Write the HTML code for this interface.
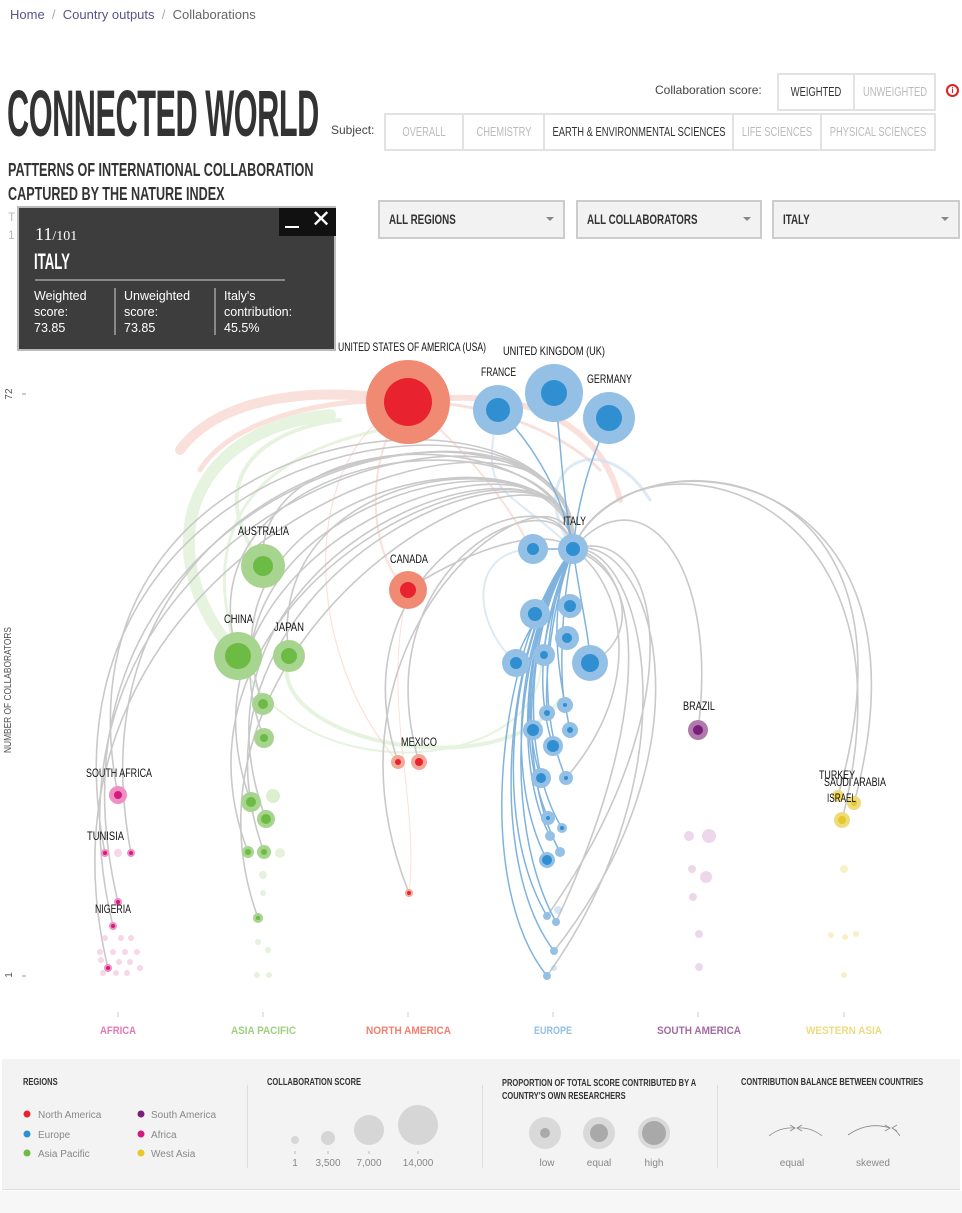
<!DOCTYPE html>
<html><head><meta charset="utf-8"><style>
*{margin:0;padding:0;box-sizing:border-box}
body{width:962px;height:1213px;background:#fff;font-family:"Liberation Sans",sans-serif;position:relative;overflow:hidden;color:#333}
.abs{position:absolute}
.cond{font-family:"Liberation Sans",sans-serif;font-weight:bold;transform-origin:0 0}
.btn{position:absolute;border:2px solid #e2e2e2;font-size:13px;color:#bbb;height:38px;background:#fff;white-space:nowrap;overflow:hidden}
.btn span{position:absolute;left:50%;top:0;line-height:34px;transform:translateX(-50%) scaleX(0.72);transform-origin:50% 50%}
.sel{position:absolute;top:200px;height:39px;background:#f2f2f2;border:2px solid #ccc;font-weight:bold;font-size:14px;color:#333;line-height:34px;padding-left:9px;white-space:nowrap}
.sel span{display:inline-block;transform:scaleX(0.7);transform-origin:0 50%}
.sel:after{content:"";position:absolute;right:9px;top:15px;border-left:4px solid transparent;border-right:4px solid transparent;border-top:4px solid #888}
</style></head><body>
<div class="abs" style="left:10px;top:7px;font-size:13px;color:#56548a">Home <span style="color:#aaa">&nbsp;/&nbsp;</span> Country outputs <span style="color:#aaa">&nbsp;/&nbsp;</span> <span style="color:#666">Collaborations</span></div>

<div class="abs cond" style="left:7px;top:78px;font-size:66px;letter-spacing:-1px;color:#333;transform:scaleX(0.465);white-space:nowrap;line-height:70px">CONNECTED WORLD</div>
<div class="abs cond" style="left:8px;top:158px;font-size:18px;line-height:24px;color:#333;transform:scaleX(0.70);white-space:nowrap">PATTERNS OF INTERNATIONAL COLLABORATION<br>CAPTURED BY THE NATURE INDEX</div>
<div class="abs" style="left:8px;top:208px;font-size:12px;color:#bbb;line-height:18px">T<br>1</div>

<div class="abs" style="left:655px;top:83px;font-size:12px;color:#444">Collaboration score:</div>
<div class="btn" style="left:777px;top:73px;width:78px;color:#333"><span>WEIGHTED</span></div>
<div class="btn" style="left:853px;top:73px;width:83px"><span>UNWEIGHTED</span></div>
<div class="abs" style="left:946px;top:84px;width:13px;height:13px;border:2px solid #d22;border-radius:50%;font-size:8px;color:#d22;text-align:center;line-height:9px;font-weight:bold">i</div>

<div class="abs" style="left:331px;top:123px;font-size:12px;color:#444">Subject:</div>
<div class="btn" style="left:384px;top:113px;width:80px"><span>OVERALL</span></div>
<div class="btn" style="left:462px;top:113px;width:83px"><span>CHEMISTRY</span></div>
<div class="btn" style="left:543px;top:113px;width:191px;color:#333"><span>EARTH &amp; ENVIRONMENTAL SCIENCES</span></div>
<div class="btn" style="left:732px;top:113px;width:90px"><span>LIFE SCIENCES</span></div>
<div class="btn" style="left:820px;top:113px;width:116px"><span>PHYSICAL SCIENCES</span></div>

<div class="sel" style="left:378px;width:187px"><span>ALL REGIONS</span></div>
<div class="sel" style="left:576px;width:186px"><span>ALL COLLABORATORS</span></div>
<div class="sel" style="left:772px;width:188px"><span>ITALY</span></div>

<svg class="abs" style="left:0;top:0" width="962" height="1060" viewBox="0 0 962 1060">
<g fill="none" stroke-linecap="round">
<g stroke="#f4b4a8" opacity="0.4">
<path d="M408,402 C320,385 220,395 180,450" stroke-width="10"/>
<path d="M408,402 C330,395 230,420 200,470" stroke-width="5"/>
<path d="M408,402 C520,385 600,420 620,500" stroke-width="6"/>
<path d="M408,402 C480,400 560,430 600,470" stroke-width="3"/>
<path d="M408,402 C360,460 370,560 408,590" stroke-width="2"/>
<path d="M408,402 C300,450 300,650 398,762" stroke-width="1.2"/>
<path d="M408,402 C470,450 520,520 530,550" stroke-width="2"/>
<path d="M408,590 C380,700 420,800 409,893" stroke-width="1"/>
</g>
<g stroke="#cfe8c0" opacity="0.5">
<path d="M238,656 C150,560 180,430 330,415" stroke-width="12"/>
<path d="M263,566 C200,480 260,430 340,420" stroke-width="4"/>
<path d="M238,656 C200,540 240,460 380,430" stroke-width="3"/>
<path d="M289,656 C260,740 500,790 560,700" stroke-width="4"/>
<path d="M238,656 C300,800 560,770 540,650" stroke-width="2"/>
</g>
<g stroke="#cfe0f2" opacity="0.7">
<path d="M573,549 C520,470 600,420 650,500" stroke-width="3"/>
<path d="M573,549 C500,480 480,500 498,410" stroke-width="2"/>
<path d="M516,663 C470,620 470,550 533,549" stroke-width="2"/>
</g>
<g stroke="#c9c9c9" stroke-width="1.6">
<path d="M573,549 C585,360 40,400 118,795"/>
<path d="M573,549 C585,355 20,420 105,853"/>
<path d="M573,549 C585,365 50,430 131,853"/>
<path d="M573,549 C590,350 10,450 118,902"/>
<path d="M573,549 C590,345 5,480 113,926"/>
<path d="M573,549 C595,340 0,520 108,968"/>
<path d="M573,549 C570,420 250,420 263,566"/>
<path d="M573,549 C575,400 170,440 238,656"/>
<path d="M573,549 C570,430 260,460 289,656"/>
<path d="M573,549 C575,410 180,480 263,704"/>
<path d="M573,549 C578,405 170,500 264,738"/>
<path d="M573,549 C580,395 150,530 251,802"/>
<path d="M573,549 C580,400 160,540 266,819"/>
<path d="M573,549 C582,390 140,570 248,852"/>
<path d="M573,549 C582,395 160,570 264,852"/>
<path d="M573,549 C585,385 150,620 258,918"/>
<path d="M573,549 C540,520 450,560 408,590"/>
<path d="M573,549 C560,460 330,560 398,762"/>
<path d="M573,549 C560,470 360,560 419,762"/>
<path d="M573,549 C570,440 300,620 409,893"/>
<path d="M573,549 C640,470 720,560 698,730"/>
<path d="M573,549 C620,430 940,440 838,796"/>
<path d="M573,549 C620,425 950,450 854,803"/>
<path d="M573,549 C625,420 930,470 842,820"/>
<path d="M573,549 C640,540 700,760 547,976"/>
<path d="M573,549 C650,530 720,740 554,951"/>
<path d="M573,549 C660,520 700,700 547,916"/>
<path d="M573,549 C640,560 660,700 556,922"/>
<path d="M573,549 C620,580 650,680 566,778"/>
<path d="M573,549 C630,570 640,640 590,663"/>
</g>
<g stroke="#7fb3de" stroke-width="1.5">
<path d="M573,549 C560,480 560,420 554,393"/>
<path d="M573,549 C580,480 600,440 609,418"/>
<path d="M573,549 C560,480 520,430 498,410"/>
<path d="M573,549 C500,640 470,880 547,976"/>
<path d="M573,549 C505,640 485,860 554,951"/>
<path d="M573,549 C510,640 490,820 547,916"/>
<path d="M573,549 C515,640 500,820 556,922"/>
<path d="M573,549 C515,640 505,780 547,860"/>
<path d="M573,549 C520,640 520,780 560,852"/>
<path d="M573,549 C520,630 515,770 550,836"/>
<path d="M573,549 C525,630 520,760 562,828"/>
<path d="M573,549 C525,630 515,740 548,818"/>
<path d="M573,549 C530,620 520,720 541,778"/>
<path d="M573,549 C540,620 540,720 566,778"/>
<path d="M573,549 C540,620 535,690 553,746"/>
<path d="M573,549 C545,610 560,680 570,730"/>
<path d="M573,549 C540,610 520,690 533,730"/>
<path d="M573,549 C550,610 545,680 547,713"/>
<path d="M573,549 C560,610 560,680 565,705"/>
<path d="M573,549 C550,600 520,640 516,663"/>
<path d="M573,549 C555,600 545,630 544,655"/>
<path d="M573,549 C580,600 590,640 590,663"/>
<path d="M573,549 C560,580 540,600 535,614"/>
<path d="M573,549 L533,549"/>
</g>
</g>
<g>
<circle cx="408" cy="402" r="42" fill="#f08a72"/><circle cx="408" cy="402" r="24" fill="#e8232f"/>
<circle cx="408" cy="590" r="19" fill="#f08a72"/><circle cx="408" cy="590" r="8" fill="#e8232f"/>
<circle cx="398" cy="762" r="7" fill="#f4a898"/><circle cx="398" cy="762" r="3" fill="#e8232f"/>
<circle cx="419" cy="762" r="8" fill="#f4a898"/><circle cx="419" cy="762" r="4" fill="#e8232f"/>
<circle cx="409" cy="893" r="4" fill="#f4a898"/><circle cx="409" cy="893" r="2" fill="#e8232f"/>
</g>
<g fill="#94c0e6">
<circle cx="498" cy="410" r="25"/><circle cx="554" cy="393" r="29"/><circle cx="609" cy="418" r="26"/>
<circle cx="573" cy="549" r="15"/><circle cx="533" cy="549" r="15"/><circle cx="535" cy="614" r="15"/>
<circle cx="570" cy="606" r="12"/><circle cx="567" cy="638" r="12"/><circle cx="516" cy="663" r="14"/>
<circle cx="544" cy="655" r="11"/><circle cx="590" cy="663" r="18"/><circle cx="565" cy="705" r="8"/>
<circle cx="547" cy="713" r="8"/><circle cx="533" cy="730" r="10"/><circle cx="570" cy="730" r="8"/>
<circle cx="553" cy="746" r="10"/><circle cx="541" cy="778" r="10"/><circle cx="566" cy="778" r="7"/>
<circle cx="548" cy="818" r="7"/><circle cx="562" cy="828" r="5"/><circle cx="550" cy="836" r="5"/>
<circle cx="547" cy="860" r="8"/><circle cx="560" cy="852" r="5"/><circle cx="547" cy="916" r="4"/>
<circle cx="556" cy="922" r="4"/><circle cx="554" cy="951" r="4"/><circle cx="547" cy="976" r="4"/>
<circle cx="558" cy="910" r="4" opacity="0.4"/><circle cx="554" cy="968" r="3" opacity="0.4"/>
</g>
<g fill="#2f8fd1">
<circle cx="498" cy="410" r="12"/><circle cx="554" cy="393" r="13"/><circle cx="609" cy="418" r="13"/>
<circle cx="573" cy="549" r="7"/><circle cx="533" cy="549" r="6"/><circle cx="535" cy="614" r="7"/>
<circle cx="570" cy="606" r="6"/><circle cx="567" cy="638" r="5"/><circle cx="516" cy="663" r="6"/>
<circle cx="544" cy="655" r="4"/><circle cx="590" cy="663" r="9"/><circle cx="565" cy="705" r="2"/>
<circle cx="547" cy="713" r="3"/><circle cx="533" cy="730" r="6"/><circle cx="570" cy="730" r="3"/>
<circle cx="553" cy="746" r="6"/><circle cx="541" cy="778" r="5"/><circle cx="566" cy="778" r="2"/>
<circle cx="548" cy="818" r="2"/><circle cx="547" cy="860" r="5"/><circle cx="562" cy="828" r="2"/>
</g>
<g>
<circle cx="263" cy="566" r="22" fill="#a7d48f"/><circle cx="263" cy="566" r="10" fill="#6cbb45"/>
<circle cx="238" cy="656" r="24" fill="#a7d48f"/><circle cx="238" cy="656" r="13" fill="#6cbb45"/>
<circle cx="289" cy="656" r="16" fill="#a7d48f"/><circle cx="289" cy="656" r="8" fill="#6cbb45"/>
<circle cx="263" cy="704" r="11" fill="#a7d48f"/><circle cx="263" cy="704" r="5" fill="#6cbb45"/>
<circle cx="264" cy="738" r="10" fill="#a7d48f"/><circle cx="264" cy="738" r="4" fill="#6cbb45"/>
<circle cx="251" cy="802" r="10" fill="#a7d48f"/><circle cx="251" cy="802" r="5" fill="#6cbb45"/>
<circle cx="273" cy="796" r="7" fill="#dcefd0"/>
<circle cx="266" cy="819" r="9" fill="#a7d48f"/><circle cx="266" cy="819" r="5" fill="#6cbb45"/>
<circle cx="248" cy="852" r="6" fill="#a7d48f"/><circle cx="248" cy="852" r="3" fill="#6cbb45"/>
<circle cx="264" cy="852" r="7" fill="#a7d48f"/><circle cx="264" cy="852" r="3" fill="#6cbb45"/>
<circle cx="280" cy="853" r="5" fill="#e5f2dc"/>
<circle cx="258" cy="918" r="5" fill="#a7d48f"/><circle cx="258" cy="918" r="2" fill="#6cbb45"/>
<g fill="#e5f2dc"><circle cx="263" cy="875" r="4"/><circle cx="263" cy="893" r="3"/><circle cx="258" cy="942" r="3"/><circle cx="268" cy="950" r="3"/><circle cx="257" cy="975" r="3"/><circle cx="269" cy="975" r="3"/></g>
</g>
<g>
<circle cx="698" cy="730" r="10" fill="#b07aaa"/><circle cx="698" cy="730" r="5" fill="#7b1f7a"/>
<g fill="#ecd8ea"><circle cx="689" cy="836" r="5"/><circle cx="709" cy="836" r="7"/><circle cx="692" cy="869" r="4"/><circle cx="706" cy="877" r="6"/><circle cx="693" cy="897" r="4"/><circle cx="699" cy="934" r="4"/><circle cx="699" cy="967" r="4"/></g>
</g>
<g>
<circle cx="118" cy="795" r="9" fill="#ee90c4"/><circle cx="118" cy="795" r="4" fill="#d6197f"/>
<circle cx="105" cy="853" r="4" fill="#ee90c4"/><circle cx="105" cy="853" r="2" fill="#d6197f"/>
<circle cx="131" cy="853" r="4" fill="#ee90c4"/><circle cx="131" cy="853" r="2" fill="#d6197f"/>
<circle cx="118" cy="853" r="4" fill="#f8d6e8"/>
<circle cx="118" cy="902" r="4" fill="#ee90c4"/><circle cx="118" cy="902" r="2" fill="#d6197f"/>
<circle cx="113" cy="926" r="4" fill="#ee90c4"/><circle cx="113" cy="926" r="2" fill="#d6197f"/>
<circle cx="108" cy="968" r="4" fill="#ee90c4"/><circle cx="108" cy="968" r="2" fill="#d6197f"/>
<g fill="#f8d6e8"><circle cx="105" cy="938" r="3"/><circle cx="121" cy="938" r="3"/><circle cx="131" cy="938" r="3"/><circle cx="100" cy="952" r="3"/><circle cx="113" cy="952" r="3"/><circle cx="125" cy="952" r="3"/><circle cx="137" cy="952" r="3"/><circle cx="101" cy="960" r="3"/><circle cx="119" cy="962" r="3"/><circle cx="130" cy="962" r="3"/><circle cx="103" cy="973" r="3"/><circle cx="116" cy="973" r="3"/><circle cx="127" cy="973" r="3"/><circle cx="140" cy="968" r="3"/></g>
</g>
<g>
<circle cx="838" cy="796" r="6" fill="#eedb7a"/><circle cx="838" cy="796" r="3" fill="#e6c829"/>
<circle cx="854" cy="803" r="7" fill="#eedb7a"/><circle cx="854" cy="803" r="3" fill="#e6c829"/>
<circle cx="842" cy="820" r="8" fill="#eedb7a"/><circle cx="842" cy="820" r="4" fill="#e6c829"/>
<g fill="#f8f0c8"><circle cx="844" cy="869" r="4"/><circle cx="831" cy="935" r="3"/><circle cx="845" cy="937" r="3"/><circle cx="856" cy="934" r="3"/><circle cx="844" cy="975" r="3"/></g>
</g>
<g font-family="Liberation Sans, sans-serif" font-size="12" fill="#111">
<text x="338" y="351" textLength="148" lengthAdjust="spacingAndGlyphs">UNITED STATES OF AMERICA (USA)</text>
<text x="503" y="355" textLength="102" lengthAdjust="spacingAndGlyphs">UNITED KINGDOM (UK)</text>
<text x="481" y="376" textLength="35" lengthAdjust="spacingAndGlyphs">FRANCE</text>
<text x="587" y="383" textLength="45" lengthAdjust="spacingAndGlyphs">GERMANY</text>
<text x="563" y="525" textLength="23" lengthAdjust="spacingAndGlyphs">ITALY</text>
<text x="238" y="535" textLength="51" lengthAdjust="spacingAndGlyphs">AUSTRALIA</text>
<text x="390" y="563" textLength="38" lengthAdjust="spacingAndGlyphs">CANADA</text>
<text x="224" y="623" textLength="29" lengthAdjust="spacingAndGlyphs">CHINA</text>
<text x="274" y="631" textLength="30" lengthAdjust="spacingAndGlyphs">JAPAN</text>
<text x="401" y="746" textLength="36" lengthAdjust="spacingAndGlyphs">MEXICO</text>
<text x="683" y="710" textLength="32" lengthAdjust="spacingAndGlyphs">BRAZIL</text>
<text x="86" y="777" textLength="66" lengthAdjust="spacingAndGlyphs">SOUTH AFRICA</text>
<text x="87" y="840" textLength="37" lengthAdjust="spacingAndGlyphs">TUNISIA</text>
<text x="95" y="913" textLength="36" lengthAdjust="spacingAndGlyphs">NIGERIA</text>
<text x="819" y="779" textLength="36" lengthAdjust="spacingAndGlyphs">TURKEY</text>
<text x="824" y="786" textLength="62" lengthAdjust="spacingAndGlyphs">SAUDI ARABIA</text>
<text x="827" y="802" textLength="29" lengthAdjust="spacingAndGlyphs">ISRAEL</text>
</g>
<g font-family="Liberation Sans, sans-serif" font-size="10" fill="#555">
<text x="12" y="394" transform="rotate(-90 12 394)" text-anchor="middle">72</text>
<text x="12" y="975" transform="rotate(-90 12 975)" text-anchor="middle">1</text>
<text x="11" y="690" transform="rotate(-90 11 690)" text-anchor="middle" textLength="126" lengthAdjust="spacingAndGlyphs">NUMBER OF COLLABORATORS</text>
<line x1="22" y1="394" x2="26" y2="394" stroke="#999"/><line x1="22" y1="976" x2="26" y2="976" stroke="#999"/>
</g>
<g font-family="Liberation Sans, sans-serif" font-size="11" font-weight="bold">
<text x="100" y="1034" fill="#e27ab5" textLength="36" lengthAdjust="spacingAndGlyphs">AFRICA</text>
<text x="231" y="1034" fill="#9fd080" textLength="65" lengthAdjust="spacingAndGlyphs">ASIA PACIFIC</text>
<text x="366" y="1034" fill="#f08070" textLength="85" lengthAdjust="spacingAndGlyphs">NORTH AMERICA</text>
<text x="534" y="1034" fill="#93c0e6" textLength="38" lengthAdjust="spacingAndGlyphs">EUROPE</text>
<text x="657" y="1034" fill="#a56ba3" textLength="84" lengthAdjust="spacingAndGlyphs">SOUTH AMERICA</text>
<text x="806" y="1034" fill="#eddb80" textLength="76" lengthAdjust="spacingAndGlyphs">WESTERN ASIA</text>
</g>
<g stroke="#ccc"><line x1="118" y1="1012" x2="118" y2="1017"/><line x1="263" y1="1012" x2="263" y2="1017"/><line x1="408" y1="1012" x2="408" y2="1017"/><line x1="553" y1="1012" x2="553" y2="1017"/><line x1="698" y1="1012" x2="698" y2="1017"/><line x1="844" y1="1012" x2="844" y2="1017"/></g>
</svg>

<div class="abs" style="left:17px;top:206px;width:319px;height:145px;background:#3d3d3d;border:2px solid #bbb;color:#fff">
 <div class="abs" style="left:260px;top:0;width:57px;height:28px;background:#111"></div>
 <div class="abs" style="left:266px;top:18px;width:14px;height:2px;background:#fff"></div>
 <div class="abs" style="left:292px;top:-1px;font-size:24px;line-height:26px">✕</div>
 <div class="abs" style="left:16px;top:16px;font-size:18px;font-family:'Liberation Serif',serif">11<span style="font-size:14px">/101</span></div>
 <div class="abs cond" style="left:15px;top:41px;font-size:22px;transform:scaleX(0.6)">ITALY</div>
 <div class="abs" style="left:16px;top:71px;width:250px;height:2px;background:#888"></div>
 <div class="abs" style="left:15px;top:80px;font-size:12.5px;line-height:16px">Weighted<br>score:<br>73.85</div>
 <div class="abs" style="left:95px;top:80px;width:2px;height:47px;background:#888"></div>
 <div class="abs" style="left:105px;top:80px;font-size:12.5px;line-height:16px">Unweighted<br>score:<br>73.85</div>
 <div class="abs" style="left:195px;top:80px;width:2px;height:47px;background:#888"></div>
 <div class="abs" style="left:205px;top:80px;font-size:12.5px;line-height:16px">Italy's<br>contribution:<br>45.5%</div>
</div>

<div class="abs" style="left:2px;top:1059px;width:958px;height:131px;background:#f3f3f3;border-bottom:1px solid #ddd"></div>
<div class="abs" style="left:0;top:1191px;width:962px;height:22px;background:#f7f7f7"></div>
<div class="abs" style="left:247px;top:1085px;width:1px;height:83px;background:#ddd"></div>
<div class="abs" style="left:482px;top:1085px;width:1px;height:83px;background:#ddd"></div>
<div class="abs" style="left:717px;top:1085px;width:1px;height:83px;background:#ddd"></div>
<div class="abs cond" style="left:23px;top:1077px;font-size:10px;transform:scaleX(0.75);white-space:nowrap">REGIONS</div>
<div class="abs cond" style="left:267px;top:1077px;font-size:10px;transform:scaleX(0.75);white-space:nowrap">COLLABORATION SCORE</div>
<div class="abs cond" style="left:502px;top:1077px;font-size:10px;line-height:13px;transform:scaleX(0.75);white-space:nowrap">PROPORTION OF TOTAL SCORE CONTRIBUTED BY A<br>COUNTRY'S OWN RESEARCHERS</div>
<div class="abs cond" style="left:741px;top:1077px;font-size:10px;transform:scaleX(0.75);white-space:nowrap">CONTRIBUTION BALANCE BETWEEN COUNTRIES</div>
<svg class="abs" style="left:0;top:1059px" width="962" height="131">
<g font-family="Liberation Sans, sans-serif" font-size="10" fill="#888">
<circle cx="27" cy="55" r="3.5" fill="#e8232f"/><text x="38" y="59">North America</text>
<circle cx="27" cy="75" r="3.5" fill="#2f8fd1"/><text x="38" y="79">Europe</text>
<circle cx="27" cy="94" r="3.5" fill="#6cbb45"/><text x="38" y="98">Asia Pacific</text>
<circle cx="141" cy="55" r="3.5" fill="#7b1f7a"/><text x="151" y="59">South America</text>
<circle cx="141" cy="75" r="3.5" fill="#d6197f"/><text x="151" y="79">Africa</text>
<circle cx="141" cy="94" r="3.5" fill="#e6c829"/><text x="151" y="98">West Asia</text>
<g fill="#d6d6d6"><circle cx="295" cy="81" r="4"/><circle cx="328" cy="79" r="7"/><circle cx="369" cy="71" r="15"/><circle cx="418" cy="66" r="20"/></g>
<g stroke="#bbb"><line x1="295" y1="92" x2="295" y2="95"/><line x1="328" y1="92" x2="328" y2="95"/><line x1="369" y1="92" x2="369" y2="95"/><line x1="418" y1="92" x2="418" y2="95"/></g>
<text x="295" y="107" text-anchor="middle">1</text><text x="328" y="107" text-anchor="middle">3,500</text><text x="369" y="107" text-anchor="middle">7,000</text><text x="418" y="107" text-anchor="middle">14,000</text>
<circle cx="545" cy="74" r="16" fill="#d9d9d9"/><circle cx="545" cy="74" r="5" fill="#a9a9a9"/>
<circle cx="599" cy="74" r="16" fill="#d9d9d9"/><circle cx="599" cy="74" r="9" fill="#a9a9a9"/>
<circle cx="654" cy="74" r="16" fill="#d9d9d9"/><circle cx="654" cy="74" r="12" fill="#a9a9a9"/>
<text x="547" y="107" text-anchor="middle">low</text><text x="599" y="107" text-anchor="middle">equal</text><text x="654" y="107" text-anchor="middle">high</text>
<g fill="none" stroke="#888" stroke-width="0.8">
<path d="M769,77 Q780,68 795,69"/><path d="M822,77 Q811,68 797,69"/><path d="M790,66 L795,69 L790,72"/><path d="M802,66 L797,69 L802,72"/>
<path d="M848,76 Q868,62 890,69"/><path d="M885,66 L890,69 L885,72"/><path d="M900,77 Q896,71 892,69"/><path d="M897,66 L892,69 L897,72"/>
</g>
<text x="792" y="107" text-anchor="middle">equal</text><text x="873" y="107" text-anchor="middle">skewed</text>
</g>
</svg>
</body></html>
